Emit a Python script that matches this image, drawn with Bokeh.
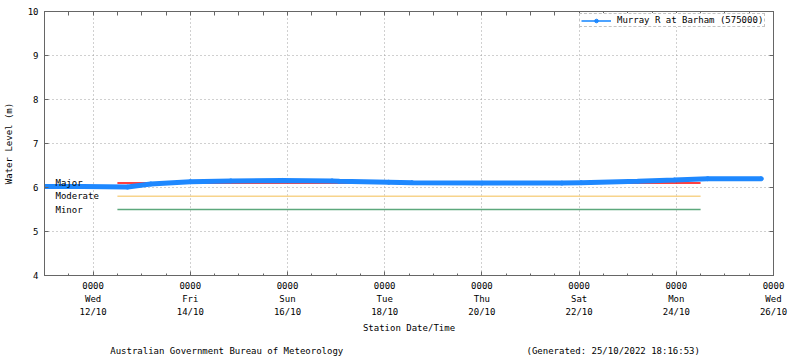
from datetime import timezone
import pandas as pd
from bokeh.plotting import figure
from bokeh.layouts import column
from bokeh.models import (Range1d, FixedTicker, DatetimeTickFormatter, LinearAxis,
                          DatetimeAxis, Label, Legend, LegendItem, ColumnDataSource)
from bokeh.core.properties import value
from bokeh.embed import file_html
from bokeh.resources import INLINE

# ---------------- data ----------------
times = ["2022-10-11 00:00", "2022-10-11 19:00", "2022-10-12 17:00", "2022-10-13 04:30",
         "2022-10-14 00:00", "2022-10-14 20:00", "2022-10-15 21:30", "2022-10-16 22:00",
         "2022-10-17 01:30", "2022-10-18 02:00", "2022-10-18 13:30", "2022-10-20 00:00",
         "2022-10-21 15:30", "2022-10-22 01:00", "2022-10-23 05:00", "2022-10-23 23:00",
         "2022-10-24 15:30", "2022-10-25 18:00"]
levels = [6.02, 6.02, 6.01, 6.08, 6.13, 6.15, 6.16, 6.15, 6.14, 6.12, 6.11, 6.10,
          6.10, 6.11, 6.14, 6.17, 6.20, 6.20]
series_name = "Murray R at Barham (575000)"

thr_names = ["Major", "Moderate", "Minor"]
thr_levels = [6.1, 5.8, 5.5]
thr_colors = ["#ff0000", "#f7d48c", "#5da87c"]
thr_start = "2022-10-12 12:00"
thr_end = "2022-10-24 12:00"

x_start = "2022-10-11 00:00"
x_end = "2022-10-26 00:00"
x_tick_dates = ["2022-10-12", "2022-10-14", "2022-10-16", "2022-10-18",
                "2022-10-20", "2022-10-22", "2022-10-24", "2022-10-26"]
y_ticks = [4, 5, 6, 7, 8, 9, 10]

footer_texts = ["Australian Government Bureau of Meteorology",
                "(Generated: 25/10/2022 18:16:53)"]

FONT = "DejaVu Sans Mono"
FS = "9px"


def ms(s):
    return pd.Timestamp(s).replace(tzinfo=timezone.utc).timestamp() * 1000.0


x_major = [ms(d) for d in x_tick_dates]
x_minor = [ms(d) for d in pd.date_range(x_start, x_end, freq="12h")]

src = ColumnDataSource(dict(t=pd.to_datetime(times), v=levels))

p = figure(width=800, height=338, x_axis_type="datetime",
           x_range=Range1d(pd.Timestamp(x_start), pd.Timestamp(x_end)),
           y_range=Range1d(4, 10), output_backend="svg", toolbar_location=None,
           min_border_left=41, min_border_right=27, min_border_top=11,
           min_border_bottom=63)
p.background_fill_color = "white"
p.border_fill_color = "white"
p.outline_line_color = "#666666"
p.outline_line_width = 1

# grid
p.xgrid.ticker = FixedTicker(ticks=x_major)
p.ygrid.ticker = FixedTicker(ticks=y_ticks)
for g in (p.xgrid, p.ygrid):
    g.grid_line_color = "#a0a0a0"
    g.grid_line_dash = "1 3"
    g.grid_line_width = 1

# x axis
xa = p.xaxis[0]
xa.ticker = FixedTicker(ticks=x_major, minor_ticks=x_minor)
fmt = "%H%M\n%a\n%d/%m"
xa.formatter = DatetimeTickFormatter(microseconds=fmt, milliseconds=fmt, seconds=fmt,
                                     minsec=fmt, minutes=fmt, hourmin=fmt, hours=fmt,
                                     days=fmt, months=fmt, years=fmt)
xa.axis_label = "Station Date/Time"

# y axis
ya = p.yaxis[0]
ya.ticker = FixedTicker(ticks=y_ticks, minor_ticks=[])
ya.axis_label = "Water Level (m)"

for ax in (xa, ya):
    ax.axis_line_color = "#666666"
    ax.axis_line_width = 1
    ax.major_tick_in = 4
    ax.major_tick_out = 0
    ax.minor_tick_in = 2
    ax.minor_tick_out = 0
    ax.major_tick_line_color = "#666666"
    ax.minor_tick_line_color = "#666666"
    ax.major_label_text_font = FONT
    ax.major_label_text_font_size = FS
    ax.major_label_text_color = "#000000"
    ax.axis_label_text_font = FONT
    ax.axis_label_text_font_size = FS
    ax.axis_label_text_font_style = "normal"
    ax.axis_label_text_color = "#000000"

xa.major_label_standoff = 5
xa.major_label_text_line_height = 1.3
xa.axis_label_standoff = 3
ya.major_label_standoff = 6
ya.axis_label_standoff = 11

# mirrored axes (ticks only)
ra = LinearAxis(ticker=FixedTicker(ticks=[], minor_ticks=y_ticks))
ta = DatetimeAxis(ticker=FixedTicker(ticks=[], minor_ticks=x_minor))
for ax in (ra, ta):
    ax.axis_line_color = "#666666"
    ax.minor_tick_in = 4
    ax.minor_tick_out = 0
    ax.minor_tick_line_color = "#666666"
    ax.major_tick_in = 0
    ax.major_tick_out = 0
p.add_layout(ra, "right")
p.add_layout(ta, "above")

# thresholds
for name, lev, col in zip(thr_names, thr_levels, thr_colors):
    p.segment(x0=[pd.Timestamp(thr_start)], y0=[lev], x1=[pd.Timestamp(thr_end)], y1=[lev],
              line_color=col, line_width=1.5)
    p.add_layout(Label(x=11, x_units="screen", y=lev, y_units="data", text=name,
                       text_font=FONT, text_font_size=FS, text_color="#000000",
                       text_baseline="middle", text_align="left"))

# series
thin = p.line("t", "v", source=src, line_color="#4da3ff", line_width=2)
dots = p.scatter("t", "v", source=src, size=4, color="#1e88ff")
p.line("t", "v", source=src, line_color="#1e88ff", line_width=5)

legend = Legend(items=[LegendItem(label=series_name, renderers=[thin, dots])],
                location=(535, 248), margin=0, padding=1, spacing=0,
                label_text_font=FONT, label_text_font_size=FS, label_text_color="#000000",
                label_height=9, glyph_height=9, glyph_width=30, label_standoff=6,
                border_line_color="#888888", border_line_dash="1 2", border_line_width=1,
                background_fill_color="white", background_fill_alpha=1)
p.add_layout(legend)

# footer strip: its frame is aligned with the main frame,
# so its x range is expressed in page pixels
f = figure(width=800, height=20, x_range=Range1d(41, 773), y_range=Range1d(0, 20),
           output_backend="svg", toolbar_location=None, min_border=0,
           x_axis_location=None, y_axis_location=None)
f.grid.visible = False
f.outline_line_color = None
f.background_fill_color = "white"
f.border_fill_color = "white"
f.text(x=[107, 525], y=[8, 8], text=footer_texts, text_font=value(FONT),
       text_font_size=value(FS), text_color="#000000", text_baseline="middle",
       text_align="left")

layout = column(p, f, spacing=0)
open("out.html", "w").write(file_html(layout, INLINE))
